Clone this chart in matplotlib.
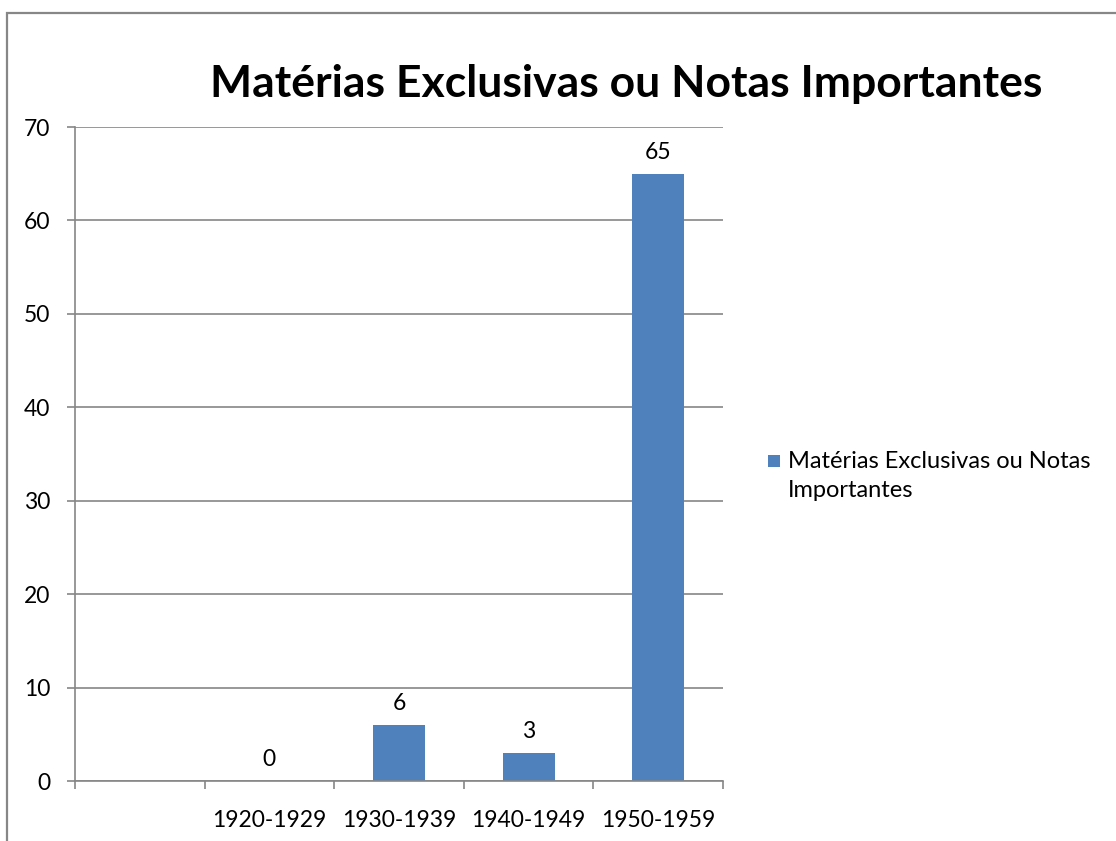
import matplotlib
matplotlib.use("Agg")
import matplotlib.pyplot as plt
from matplotlib.patches import Rectangle
import numpy as np

categories = ["", "1920-1929", "1930-1939", "1940-1949", "1950-1959"]
values = [None, 0, 6, 3, 65]
series_name = "Matérias Exclusivas ou Notas Importantes"
title = "Matérias Exclusivas ou Notas Importantes"
yticks = [0, 10, 20, 30, 40, 50, 60, 70]

plt.rcParams['font.family'] = ['Lato', 'DejaVu Sans']
W, H = 1116, 841
fig = plt.figure(figsize=(W / 100, H / 100), dpi=100)

# outer chart frame
fig.patches.append(Rectangle((7 / W, -0.1), 1.2, 1 - 13 / H + 0.1, transform=fig.transFigure,
                             fill=False, edgecolor="#878787", linewidth=1.6, zorder=0))

ax = fig.add_axes([75 / W, 1 - 781 / H, (723 - 75) / W, (781 - 127) / H])
grey = "#868686"
fs = 16.5
x = np.arange(len(categories))
vals = [v if v is not None else 0 for v in values]
bars = ax.bar(x, vals, width=0.4, color="#4F81BD", zorder=2, label=series_name)
for xi, v in zip(x, values):
    if v is None:
        continue
    ax.annotate(str(v), (xi, v), xytext=(0, 8), textcoords="offset points",
                ha="center", va="bottom", fontsize=fs)

ax.set_xlim(-0.5, len(categories) - 0.5)
ax.set_ylim(0, 70)
ax.set_yticks(yticks)
ax.set_yticklabels([str(t) for t in yticks], fontsize=fs)
ax.yaxis.grid(True, color=grey, linewidth=1.2, zorder=0)
ax.set_axisbelow(True)
ax.set_xticks(x)
ax.set_xticklabels(categories, fontsize=fs)
ax.set_xticks(np.arange(len(categories) + 1) - 0.5, minor=True)
ax.tick_params(axis="x", which="major", length=0, pad=21)
ax.tick_params(axis="x", which="minor", length=6, color=grey, width=1.2)
ax.tick_params(axis="y", length=6, color=grey, width=1.2, pad=12)
for s in ["top", "right"]:
    ax.spines[s].set_visible(False)
for s in ["left", "bottom"]:
    ax.spines[s].set_color(grey)
    ax.spines[s].set_linewidth(1.2)

fig.text(626 / W, 1 - 84 / H, title, ha="center", va="center", fontsize=32, fontweight="bold")

# legend
fig.patches.append(Rectangle((768 / W, 1 - 467 / H), 12 / W, 12 / H, transform=fig.transFigure,
                             facecolor="#4F81BD", edgecolor="none"))
fig.text(788 / W, 1 - 451 / H, "Matérias Exclusivas ou Notas\nImportantes", ha="left", va="top",
         fontsize=17, linespacing=1.45, transform=fig.transFigure)
fig.savefig("out.png", dpi=100)
